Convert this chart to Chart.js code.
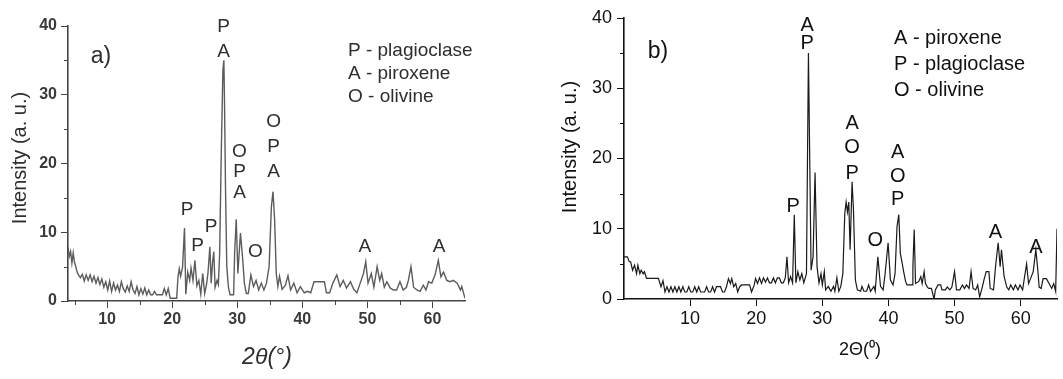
<!DOCTYPE html>
<html>
<head>
<meta charset="utf-8">
<script src="https://cdn.jsdelivr.net/npm/chart.js@4.4.1/dist/chart.umd.min.js"></script>
<style>
  html, body { margin: 0; padding: 0; background: #fff; }
  #wrap { position: relative; width: 1063px; height: 379px; overflow: hidden; }
  canvas { position: absolute; top: 0; }
  #chartA { left: 0; }
  #chartB { left: 540px; }
</style>
</head>
<body>
<div id="wrap">
  <canvas id="chartA" width="530" height="379"></canvas>
  <canvas id="chartB" width="523" height="379"></canvas>
</div>
<script>
// ---- panel a) data ----
const aAngle = [4.0, 4.2, 4.4, 4.6, 4.8, 5.0, 5.2, 5.4, 5.6, 5.9, 6.2, 6.5, 6.8, 7.1, 7.4, 7.7, 8.0, 8.3, 8.6, 8.9,
  9.2, 9.5, 9.8, 10.1, 10.4, 10.7, 11.0, 11.3, 11.6, 11.9, 12.2, 12.5, 12.8, 13.1, 13.4, 13.7, 14.0, 14.3, 14.6, 14.9,
  15.2, 15.5, 15.8, 16.1, 16.4, 16.7, 17.0, 17.3, 17.6, 17.9, 18.2, 18.5, 18.8, 19.1, 19.4, 19.7, 20.0, 20.4, 20.7, 20.9,
  21.1, 21.3, 21.6, 21.9, 22.1, 22.4, 22.7, 22.9, 23.2, 23.5, 23.8, 24.1, 24.4, 24.7, 25.0, 25.3, 25.5, 25.8, 26.0, 26.2,
  26.4, 26.6, 26.9, 27.1, 27.3, 27.55, 27.8, 27.95, 28.05, 28.2, 28.4, 28.65, 28.9, 29.2, 29.45, 29.6, 29.85, 30.1, 30.5, 30.85,
  31.1, 31.4, 31.7, 32.1, 32.5, 32.9, 33.3, 33.7, 34.1, 34.5, 34.9, 35.25, 35.5, 35.75, 36.0, 36.25, 36.5, 36.9, 37.4, 37.8,
  38.2, 38.7, 39.2, 39.7, 40.3, 40.8, 41.3, 41.8, 42.3, 42.9, 43.4, 43.7, 44.2, 44.7, 45.3, 45.8, 46.3, 46.8, 47.4, 47.9,
  48.4, 48.9, 49.4, 49.75, 50.1, 50.6, 51.0, 51.5, 51.9, 52.2, 52.6, 53.0, 53.5, 54.0, 54.5, 55.0, 55.5, 56.0, 56.3, 56.7,
  57.1, 57.6, 58.1, 58.6, 59.0, 59.4, 59.9, 60.4, 60.9, 61.3, 61.7, 62.2, 62.7, 63.2, 63.8, 64.3, 64.5, 65.0];
const aIntensity = [7.8, 6.5, 7.2, 5.5, 7.0, 5.6, 5.0, 4.2, 3.8, 3.4, 3.9, 2.9, 3.8, 3.0, 3.8, 2.8, 3.6, 2.6, 3.4, 2.4,
  3.2, 2.0, 2.8, 1.6, 2.9, 1.4, 2.6, 1.6, 2.3, 1.4, 2.8, 1.8, 1.3, 2.2, 1.4, 2.8, 1.6, 1.1, 2.1, 0.9,
  1.8, 1.0, 1.9, 0.9, 1.6, 0.9, 0.9, 1.4, 0.9, 0.9, 0.9, 0.9, 1.8, 0.9, 1.8, 0.4, 0.4, 0.4, 0.4, 3.5,
  4.7, 3.6, 4.9, 10.6, 1.0, 4.2, 3.0, 4.8, 3.0, 5.9, 2.2, 3.0, 1.0, 4.0, 1.1, 2.5, 4.0, 7.9, 2.6, 5.5,
  7.2, 2.0, 3.0, 2.4, 6.9, 21.5, 33.6, 35.0, 28.8, 16.6, 5.0, 2.0, 0.9, 0.9, 0.9, 6.9, 11.9, 4.0, 9.9, 6.0,
  2.6, 1.1, 1.1, 3.8, 2.1, 3.0, 1.6, 2.6, 1.6, 2.6, 5.0, 13.7, 15.9, 11.8, 4.0, 2.1, 3.6, 1.7, 2.3, 3.7,
  1.6, 2.6, 1.2, 2.1, 1.2, 1.4, 1.2, 2.8, 2.8, 2.8, 2.8, 1.2, 1.2, 2.6, 3.8, 2.1, 3.0, 1.9, 2.8, 1.7,
  1.2, 2.6, 4.0, 5.7, 2.6, 4.0, 2.0, 5.0, 3.0, 4.0, 2.0, 2.8, 1.9, 1.6, 1.6, 2.8, 1.6, 2.0, 3.0, 5.0,
  2.0, 1.6, 1.4, 2.3, 1.6, 2.8, 2.6, 3.8, 5.9, 3.5, 4.2, 3.0, 2.8, 3.0, 2.6, 1.6, 2.1, 0.4];

// ---- panel b) data ----
const bAngle = [0.0, 0.5, 0.8, 1.0, 1.3, 1.6, 1.9, 2.1, 2.4, 2.6, 2.9, 3.1, 3.4, 4.0, 4.6, 5.2, 5.6, 5.9, 6.2, 6.5,
  6.8, 7.1, 7.4, 7.7, 8.0, 8.3, 8.6, 8.9, 9.2, 9.5, 9.8, 10.1, 10.4, 10.7, 11.0, 11.3, 11.6, 11.9, 12.2, 12.5,
  12.8, 13.1, 13.4, 13.7, 14.0, 14.3, 14.6, 14.9, 15.2, 15.5, 15.8, 16.1, 16.3, 16.6, 16.9, 17.2, 17.5, 17.8, 18.4, 19.0,
  19.3, 19.7, 19.9, 20.2, 20.5, 20.8, 21.1, 21.4, 21.7, 22.0, 22.3, 22.6, 22.9, 23.2, 23.5, 23.8, 24.1, 24.4, 24.65, 24.9,
  25.2, 25.5, 25.76, 26.0, 26.3, 26.6, 26.9, 27.2, 27.6, 27.9, 28.3, 28.6, 28.9, 29.2, 29.5, 29.8, 30.0, 30.3, 30.5, 30.9,
  31.3, 31.7, 31.9, 32.2, 32.5, 32.8, 33.1, 33.4, 33.6, 33.8, 34.0, 34.2, 34.5, 34.7, 35.0, 35.3, 35.8, 36.0, 36.3, 36.7,
  37.0, 37.3, 37.8, 38.0, 38.4, 38.8, 39.2, 39.5, 39.95, 40.3, 40.7, 41.0, 41.3, 41.57, 41.8, 42.1, 42.3, 42.6, 42.8, 43.6,
  43.7, 43.9, 44.1, 44.6, 44.9, 45.1, 45.4, 45.6, 45.9, 46.1, 46.5, 46.9, 47.1, 47.5, 47.9, 48.1, 48.6, 48.9, 49.3, 49.6,
  50.0, 50.3, 50.8, 51.2, 51.5, 51.8, 52.2, 52.5, 52.8, 53.2, 53.5, 53.8, 54.2, 54.5, 54.8, 55.2, 55.4, 55.9, 56.2, 56.6,
  56.9, 57.1, 57.5, 57.9, 58.2, 58.5, 58.9, 59.2, 59.6, 59.9, 60.3, 60.6, 60.9, 61.2, 61.5, 61.9, 62.3, 62.6, 62.8, 63.1,
  63.4, 63.9, 64.3, 64.7, 65.0, 65.3, 65.5];
const bIntensity = [6.0, 6.0, 5.3, 5.3, 4.1, 4.8, 3.6, 4.8, 3.6, 4.1, 3.6, 3.9, 2.95, 2.95, 2.95, 2.95, 1.75, 2.6, 1.0, 1.75,
  1.0, 1.75, 1.0, 1.75, 1.0, 1.75, 1.0, 1.75, 1.0, 1.0, 1.75, 1.0, 1.0, 1.75, 1.0, 1.75, 1.0, 1.0, 1.0, 1.75,
  1.0, 1.0, 1.75, 1.0, 1.75, 1.75, 1.75, 1.0, 1.0, 1.75, 2.9, 2.2, 2.9, 1.75, 2.2, 1.0, 1.75, 2.0, 2.0, 2.0,
  1.0, 2.0, 2.9, 2.2, 3.0, 2.2, 3.0, 2.4, 3.0, 2.3, 2.3, 3.0, 2.3, 3.0, 3.0, 2.3, 2.3, 3.0, 6.0, 2.3,
  3.2, 2.3, 12.0, 2.3, 3.9, 2.7, 3.6, 2.3, 3.6, 35.0, 4.1, 6.0, 18.0, 4.6, 2.3, 3.6, 2.0, 3.9, 1.3, 1.8,
  1.1, 1.8, 1.1, 3.0, 1.1, 1.8, 3.6, 12.2, 13.8, 12.4, 13.8, 7.0, 16.7, 13.0, 2.7, 1.3, 1.1, 1.8, 1.1, 1.1,
  2.0, 1.1, 1.8, 1.1, 6.0, 1.8, 1.3, 3.6, 8.0, 2.7, 2.0, 3.6, 10.3, 12.0, 6.5, 5.0, 3.9, 2.5, 2.0, 2.0,
  4.6, 9.9, 2.2, 2.5, 3.2, 2.2, 3.9, 2.2, 1.7, 1.5, 1.5, 0.0, 1.3, 2.0, 2.0, 1.3, 1.3, 1.7, 1.3, 1.7,
  3.9, 1.3, 1.3, 2.0, 1.5, 2.0, 1.5, 3.9, 1.5, 1.3, 2.0, 0.3, 1.7, 2.9, 3.9, 3.9, 1.5, 1.3, 4.6, 8.0,
  4.6, 7.0, 3.2, 1.7, 1.3, 2.0, 1.3, 2.0, 1.3, 2.0, 1.3, 3.2, 5.0, 2.2, 2.9, 3.9, 7.0, 4.1, 1.7, 1.5,
  2.9, 2.9, 2.2, 1.5, 2.2, 1.1, 10.0];

// ticks
const xTicks = [10, 20, 30, 40, 50, 60];
const yTicks = [0, 10, 20, 30, 40];
const aMinorX = [5, 15, 25, 35, 45, 55];
const minorY = [5, 15, 25, 35];

// peak labels: [2theta, intensity level, phase letter]
const aPeaks = [[27.9, 39.9, 'P'], [27.9, 36.2, 'A'], [22.3, 13.2, 'P'], [23.9, 8.1, 'P'], [26.0, 10.8, 'P'],
  [30.35, 21.7, 'O'], [30.35, 18.8, 'P'], [30.35, 15.7, 'A'], [32.8, 7.1, 'O'],
  [35.6, 26.0, 'O'], [35.6, 22.4, 'P'], [35.6, 18.8, 'A'], [49.6, 7.9, 'A'], [61.0, 7.9, 'A']];
const bPeaks = [[25.6, 13.1, 'P'], [27.7, 39.0, 'A'], [27.7, 36.4, 'P'],
  [34.5, 25.0, 'A'], [34.5, 21.5, 'O'], [34.5, 17.9, 'P'], [38.0, 8.4, 'O'],
  [41.4, 20.9, 'A'], [41.4, 17.4, 'O'], [41.4, 14.1, 'P'], [56.2, 9.4, 'A'], [62.3, 7.3, 'A']];
const aLegend = ['P - plagioclase', 'A - piroxene', 'O - olivine'];
const bLegend = ['A - piroxene', 'P - plagioclase', 'O - olivine'];

const FONT = '"Liberation Sans", Arial, sans-serif';

// draws minor ticks, phase letters, legend text, panel tag and axis titles
function decor(d) {
  return {
    id: 'decor',
    afterDraw(chart) {
      const ctx = chart.ctx;
      const xs = chart.scales.x, ys = chart.scales.y;
      const area = chart.chartArea;
      ctx.save();
      ctx.strokeStyle = d.axisColor;
      ctx.lineWidth = 1;
      d.minorX.forEach(v => {
        const p = Math.round(xs.getPixelForValue(v)) + 0.5;
        ctx.beginPath(); ctx.moveTo(p, area.bottom); ctx.lineTo(p, area.bottom + d.minorLen); ctx.stroke();
      });
      d.minorY.forEach(v => {
        const p = Math.round(ys.getPixelForValue(v)) + 0.5;
        ctx.beginPath(); ctx.moveTo(area.left, p); ctx.lineTo(area.left - d.minorLen, p); ctx.stroke();
      });

      ctx.fillStyle = d.textColor;
      ctx.textBaseline = 'middle';
      ctx.textAlign = 'center';
      ctx.font = d.labelFont;
      d.peaks.forEach(([x, y, t]) => ctx.fillText(t, xs.getPixelForValue(x), ys.getPixelForValue(y)));

      ctx.textAlign = 'left';
      d.legend.forEach((t, i) => ctx.fillText(t, d.legendX, d.legendY + i * d.legendGap));

      ctx.textAlign = 'center';
      ctx.font = d.tagFont;
      ctx.fillText(d.tag, d.tagX, d.tagY);

      ctx.font = d.xTitleFont;
      ctx.fillText(d.xTitle, d.xTitleX, d.xTitleY);

      ctx.font = d.yTitleFont;
      ctx.translate(d.yTitleX, d.yTitleY);
      ctx.rotate(-Math.PI / 2);
      ctx.fillText(d.yTitle, 0, 0);
      ctx.restore();
    }
  };
}

function makeChart(id, xs, ys, s) {
  const points = xs.map((x, i) => ({ x: x, y: ys[i] }));
  return new Chart(document.getElementById(id), {
    type: 'line',
    data: {
      datasets: [{
        data: points,
        borderColor: s.lineColor,
        borderWidth: s.lineWidth,
        pointRadius: 0,
        tension: 0,
        fill: false
      }]
    },
    options: {
      responsive: false,
      animation: false,
      layout: { padding: { top: s.padTop, right: s.padRight, left: 0, bottom: 0 } },
      plugins: { legend: { display: false }, tooltip: { enabled: false } },
      scales: {
        x: {
          type: 'linear',
          min: s.xMin, max: s.xMax,
          afterBuildTicks: sc => { sc.ticks = xTicks.map(v => ({ value: v })); },
          afterFit: sc => { sc.height = s.xHeight; },
          ticks: { color: s.tickColor, font: s.tickFont, padding: s.xPad, maxRotation: 0 },
          grid: { display: true, drawOnChartArea: false, drawTicks: true, tickLength: 7, color: s.axisColor },
          border: { display: true, color: s.axisColor, width: s.axisWidth }
        },
        y: {
          min: 0, max: 40,
          afterBuildTicks: sc => { sc.ticks = yTicks.map(v => ({ value: v })); },
          afterFit: sc => { sc.width = s.yWidth; },
          ticks: { color: s.tickColor, font: s.tickFont, padding: s.yPad },
          grid: { display: true, drawOnChartArea: false, drawTicks: true, tickLength: 7, color: s.axisColor },
          border: { display: true, color: s.axisColor, width: s.axisWidth }
        }
      }
    },
    plugins: [decor(s.decor)]
  });
}

makeChart('chartA', aAngle, aIntensity, {
  lineColor: '#5c5c5c', lineWidth: 1.4,
  xMin: 4, xMax: 65, padTop: 26, padRight: 65, xHeight: 78, yWidth: 68,
  tickColor: '#3a3a3a', tickFont: { family: FONT, size: 16, weight: 'bold' },
  axisColor: '#444', axisWidth: 1.6, xPad: 2, yPad: 4,
  decor: {
    axisColor: '#444', minorLen: 4, minorX: aMinorX, minorY: minorY,
    textColor: '#2e2e2e', labelFont: '19px ' + FONT, peaks: aPeaks,
    legend: aLegend, legendX: 348, legendY: 51, legendGap: 23,
    tag: 'a)', tagFont: '23px ' + FONT, tagX: 101, tagY: 57,
    xTitle: '2\u03B8(\u00B0)', xTitleFont: 'italic 23px ' + FONT, xTitleX: 267, xTitleY: 358,
    yTitle: 'Intensity (a. u.)', yTitleFont: '20px ' + FONT, yTitleX: 20, yTitleY: 158
  }
});

makeChart('chartB', bAngle, bIntensity, {
  lineColor: '#1a1a1a', lineWidth: 1.2,
  xMin: 0, xMax: 65.5, padTop: 18, padRight: 6, xHeight: 80, yWidth: 84,
  tickColor: '#111', tickFont: { family: FONT, size: 18 },
  axisColor: '#111', axisWidth: 1.6, xPad: 2, yPad: 5,
  decor: {
    axisColor: '#111', minorLen: 4, minorX: [], minorY: minorY,
    textColor: '#111', labelFont: '20px ' + FONT, peaks: bPeaks,
    legend: bLegend, legendX: 354, legendY: 38, legendGap: 26,
    tag: 'b)', tagFont: '23px ' + FONT, tagX: 118, tagY: 52,
    xTitle: '2\u0398(\u2070)', xTitleFont: '18px ' + FONT, xTitleX: 320, xTitleY: 350,
    yTitle: 'Intensity (a. u.)', yTitleFont: '20px ' + FONT, yTitleX: 30, yTitleY: 147
  }
});
</script>
</body>
</html>
